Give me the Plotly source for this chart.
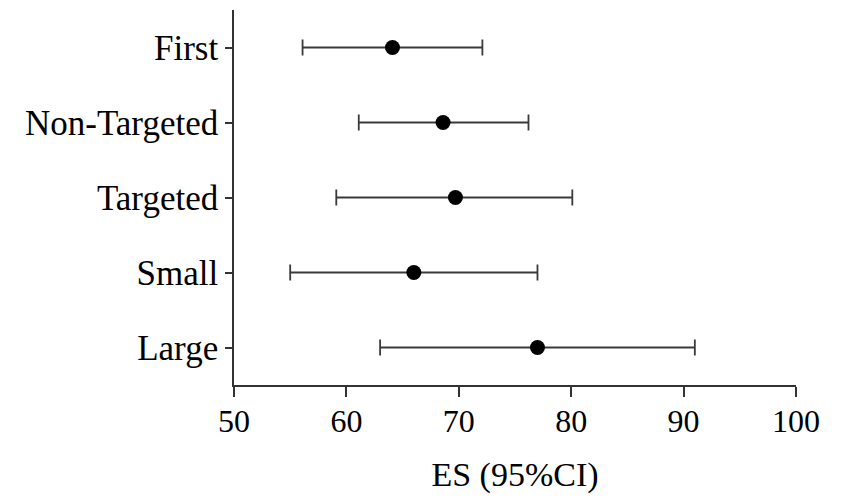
import plotly.graph_objects as go

categories = ["First", "Non-Targeted", "Targeted", "Small", "Large"]
es = [64.1, 68.6, 69.7, 66.0, 77.0]
ci_low = [56.1, 61.1, 59.1, 55.0, 63.0]
ci_high = [72.1, 76.2, 80.1, 77.0, 91.0]

err_plus = [h - e for h, e in zip(ci_high, es)]
err_minus = [e - l for e, l in zip(es, ci_low)]

font_family = "Liberation Serif, Times New Roman, serif"
axis_color = "#333333"

fig = go.Figure(
    go.Scatter(
        x=es,
        y=categories,
        mode="markers",
        marker=dict(color="black", size=15),
        error_x=dict(
            type="data",
            symmetric=False,
            array=err_plus,
            arrayminus=err_minus,
            color="#3a3a3a",
            thickness=1.8,
            width=8,
        ),
        showlegend=False,
    )
)

fig.update_layout(
    width=837,
    height=489,
    margin=dict(l=226, r=49, t=2, b=112),
    paper_bgcolor="white",
    plot_bgcolor="white",
    font=dict(family=font_family, size=32, color="black"),
    xaxis=dict(
        range=[50, 100],
        tickvals=[50, 60, 70, 80, 90, 100],
        showgrid=False,
        zeroline=False,
        showline=True,
        linecolor=axis_color,
        linewidth=1.6,
        ticks="outside",
        ticklen=10,
        tickwidth=1.6,
        tickcolor=axis_color,
        tickfont=dict(size=32),
        ticklabelstandoff=-3,
        title=dict(text="ES (95%CI)", font=dict(size=34), standoff=24),
    ),
    yaxis=dict(
        categoryorder="array",
        categoryarray=categories,
        range=[4.5, -0.5],
        showgrid=False,
        zeroline=False,
        showline=True,
        linecolor=axis_color,
        linewidth=1.6,
        ticks="outside",
        ticklen=7,
        tickwidth=1.6,
        tickcolor=axis_color,
        tickfont=dict(size=35),
        ticklabelstandoff=0,
    ),
)

fig.write_html("out.html")
